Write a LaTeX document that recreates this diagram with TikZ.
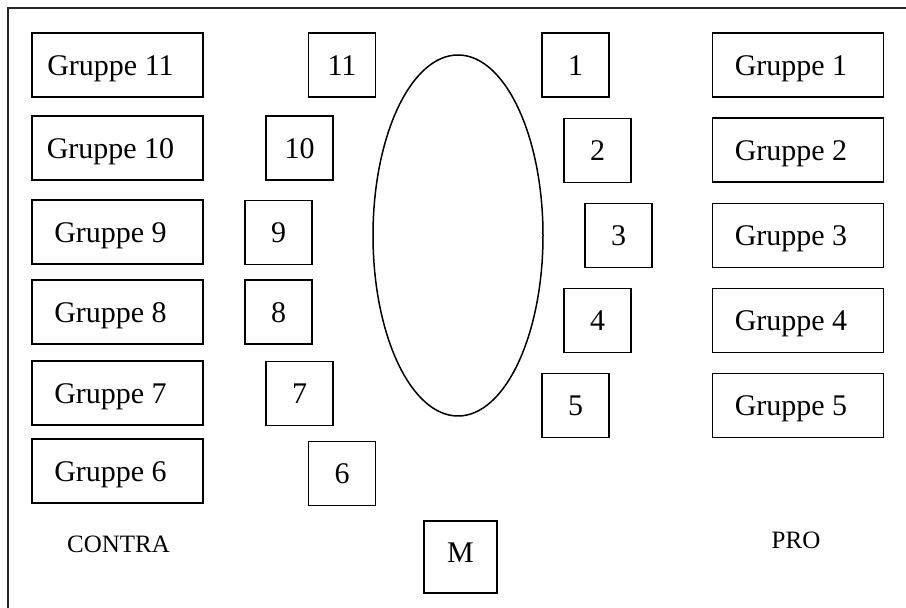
\documentclass[tikz,border=0pt]{standalone}
\usepackage{fontspec}
\setmainfont{Liberation Serif}
\usetikzlibrary{shapes.geometric}
\tikzset{
  box/.style={draw, line width=0.75pt, inner sep=0pt, text height=10.5pt, text depth=0pt,
    minimum height=32pt, font=\fontsize{15}{17}\selectfont},
  gbox/.style={box, minimum width=85.5pt, execute at begin node={\kern-7pt}},
  nbox/.style={box, minimum width=33.5pt},
  lbl/.style={inner sep=0pt, anchor=base, font=\fontsize{12.5}{14}\selectfont},
  frame/.style={line width=0.6pt, black!85},
  tablestyle/.style={draw, ellipse, line width=0.75pt, inner sep=0pt}
}
\begin{document}
\begin{tikzpicture}[x=0.5pt, y=-0.5pt]
\useasboundingbox (0,0) rectangle (906,608);
\coordinate (fa) at (8,608);
\coordinate (fb) at (8,8);
\coordinate (fc) at (906,8);
\draw[frame] (fa) -- (fb) -- (fc);
% table
\node[tablestyle, minimum width=85pt, minimum height=180.5pt] (table) at (458,235.5) {};
% CONTRA groups
\node[gbox] (g11) at (117.5,65) {Gruppe 11};
\node[gbox] (g10) at (117.5,148) {Gruppe 10};
\node[gbox] (g9) at (117.5,232) {Gruppe 9};
\node[gbox] (g8) at (117.5,312) {Gruppe 8};
\node[gbox] (g7) at (117.5,393) {Gruppe 7};
\node[gbox] (g6) at (117.5,471) {Gruppe 6};
% PRO groups
\node[gbox] (g1) at (798,65) {Gruppe 1};
\node[gbox] (g2) at (798,150) {Gruppe 2};
\node[gbox] (g3) at (798,235.5) {Gruppe 3};
\node[gbox] (g4) at (798,320.5) {Gruppe 4};
\node[gbox] (g5) at (798,405.5) {Gruppe 5};
% seats left
\node[nbox] (n11) at (342,65) {11};
\node[nbox] (n10) at (299.5,148) {10};
\node[nbox] (n9) at (278.5,232.5) {9};
\node[nbox] (n8) at (278.5,312) {8};
\node[nbox] (n7) at (299.5,393.5) {7};
\node[nbox] (n6) at (342,473.5) {6};
% seats right
\node[nbox] (n1) at (575.5,65) {1};
\node[nbox] (n2) at (597.5,150.5) {2};
\node[nbox] (n3) at (618.5,235.5) {3};
\node[nbox] (n4) at (597.5,320.5) {4};
\node[nbox] (n5) at (575.5,405.5) {5};
% moderator
\node[box, minimum width=36.5pt, minimum height=36pt, text height=6pt] (m) at (460.5,557) {M};
% labels
\node[lbl] (contra) at (118.5,553) {CONTRA};
\node[lbl] (pro) at (796,549) {PRO};
\end{tikzpicture}
\end{document}
